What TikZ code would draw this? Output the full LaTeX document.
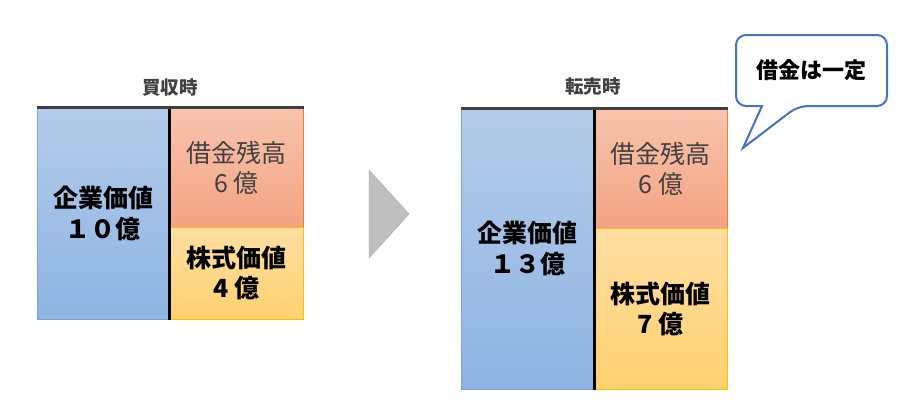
\documentclass[tikz,border=0pt]{standalone}
\usepackage{fontspec}
\setmainfont{Noto Sans CJK JP}
\usepackage{xcolor}
\usepackage{tikz}
\usetikzlibrary{positioning}

\definecolor{evtop}{HTML}{B4CCE9}
\definecolor{evbot}{HTML}{8EB4E3}
\definecolor{evline}{HTML}{7BA3D6}
\definecolor{debttop}{HTML}{F8C4AE}
\definecolor{debtbot}{HTML}{F3A383}
\definecolor{debtline}{HTML}{ED7D31}
\definecolor{eqtop}{HTML}{FFDEA2}
\definecolor{eqbot}{HTML}{FFD170}
\definecolor{eqline}{HTML}{FFC000}
\definecolor{bargray}{HTML}{404040}
\definecolor{notecol}{HTML}{4472C4}

\begin{document}
\begin{tikzpicture}[x=1pt,y=-1pt]
	\tikzset{
		blk/.style={anchor=north west,align=center,inner sep=0pt,line width=0.8pt},
		evbox/.style={blk,draw=evline,top color=evtop,bottom color=evbot,font=\fontsize{25}{31}\selectfont\bfseries},
		debtbox/.style={blk,draw=debtline,top color=debttop,bottom color=debtbot,text=bargray,font=\fontsize{25}{30}\selectfont},
		eqbox/.style={blk,draw=eqline,top color=eqtop,bottom color=eqbot,font=\fontsize{25}{30}\selectfont\bfseries},
		bartitle/.style={text=bargray,font=\fontsize{18.5}{22}\selectfont\bfseries},
		topbar/.style={draw=bargray,line width=3pt},
		divider/.style={draw=black,line width=3pt},
		notebox/.style={draw=notecol,line width=2pt,fill=white}
	}
	\useasboundingbox (0,0) rectangle (906,416);
	% before: bought
	\node[evbox,minimum width=132,minimum height=212](ev1) at (37,107){企業価値\\１０億};
	\node[debtbox,minimum width=134,minimum height=120](debt1) at (169,107){借金残高\\6 億};
	\node[eqbox,minimum width=134,minimum height=92](eq1) at (169,227){株式価値\\4 億};
	\path[divider] (ev1.north east) -- (ev1.south east);
	\path[topbar] (ev1.north west) -- (debt1.north east);
	\node[bartitle](t1) at (170,88){買収時};
	% arrow
	\fill[black!25,draw=black!35,line width=0.4pt] (369,170) -- (409,214) -- (369,258) -- cycle;
	% after: sold
	\node[evbox,minimum width=133,minimum height=281](ev2) at (461,108){企業価値\\１３億};
	\node[debtbox,minimum width=133,minimum height=120](debt2) at (594,108){借金残高\\6 億};
	\node[eqbox,minimum width=133,minimum height=161](eq2) at (594,228){株式価値\\7 億};
	\path[divider] (ev2.north east) -- (ev2.south east);
	\path[topbar] (ev2.north west) -- (debt2.north east);
	\node[bartitle](t2) at (593,87){転売時};
	% note
	\draw[notebox] (762,106) [rounded corners=10pt] -- (736,106) -- (736,35) -- (887,35) -- (887,106) -- (798,106) [sharp corners] -- (743,148) -- cycle;
	\node[font=\fontsize{22}{26}\selectfont\bfseries](note) at (811,70){借金は一定};
\end{tikzpicture}
\end{document}
